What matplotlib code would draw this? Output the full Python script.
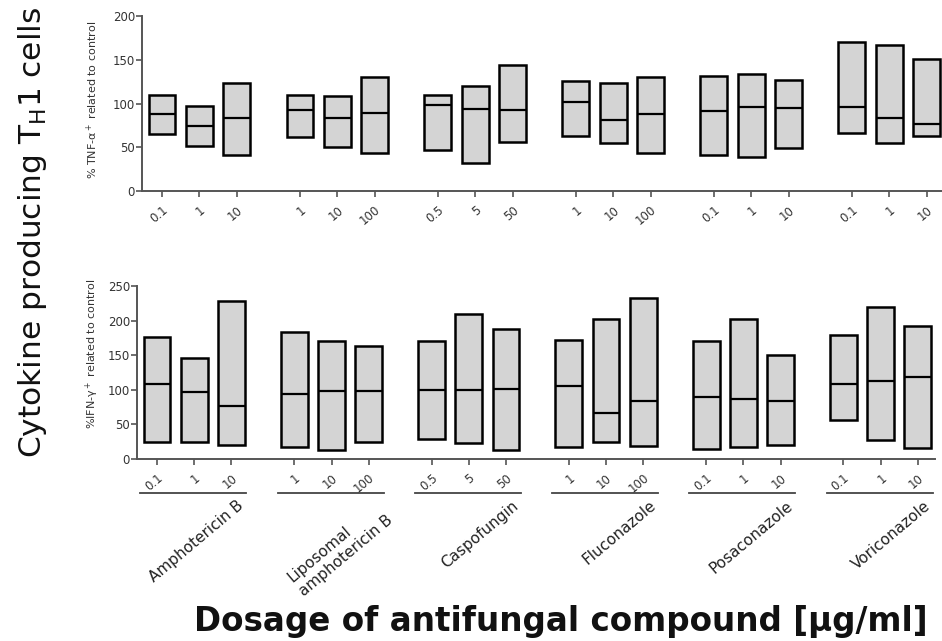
import matplotlib
matplotlib.use("Agg")
import matplotlib.pyplot as plt
import numpy as np

# groups and doses
compounds = ["Amphotericin B", "Liposomal\namphotericin B", "Caspofungin",
             "Fluconazole", "Posaconazole", "Voriconazole"]
doses = [["0.1", "1", "10"], ["1", "10", "100"], ["0.5", "5", "50"],
         ["1", "10", "100"], ["0.1", "1", "10"], ["0.1", "1", "10"]]

# % TNF-a+ related to control (min / median / max)
tnf_max = [110, 97, 123, 110, 109, 130, 110, 120, 144, 126, 123, 130, 131, 134, 127, 170, 167, 151]
tnf_med = [88, 74, 84, 93, 84, 89, 98, 94, 93, 102, 81, 88, 91, 96, 95, 96, 83, 77]
tnf_min = [65, 52, 41, 62, 50, 44, 47, 32, 56, 63, 55, 44, 41, 39, 49, 66, 55, 63]

# % IFN-g+ related to control
ifn_max = [177, 146, 229, 183, 170, 163, 170, 209, 188, 172, 202, 232, 171, 202, 150, 179, 219, 192]
ifn_med = [108, 97, 76, 94, 98, 98, 100, 99, 101, 105, 66, 84, 90, 87, 84, 109, 113, 118]
ifn_min = [24, 24, 20, 18, 13, 25, 29, 23, 13, 17, 24, 19, 15, 17, 20, 56, 28, 16]

GROUP_STEP = 3.69
BAR_W = 0.72
FILL = "#d4d4d4"
SPINE = "#555555"
TXT = "#333333"

pos = np.array([g * GROUP_STEP + i for g in range(len(compounds)) for i in range(3)])
dose_labels = [d for grp in doses for d in grp]

fig = plt.figure(figsize=(9.42, 6.41), dpi=100)
W, H = 942.0, 641.0


def px_axes(left, top, right, bottom):
    return fig.add_axes([left / W, 1 - bottom / H, (right - left) / W, (bottom - top) / H])


def draw_panel(ax, lo, med, hi, ymax, ystep, xlim):
    lo, med, hi = np.array(lo), np.array(med), np.array(hi)
    ax.bar(pos, hi - lo, bottom=lo, width=BAR_W, color=FILL,
           edgecolor="black", linewidth=1.8, zorder=3)
    ax.hlines(med, pos - BAR_W / 2, pos + BAR_W / 2, color="black", linewidth=1.6, zorder=4)
    ax.set_xlim(*xlim)
    ax.set_ylim(0, ymax)
    ax.set_yticks(np.arange(0, ymax + 1, ystep))
    ax.set_xticks(pos)
    ax.set_xticklabels(dose_labels, rotation=40, ha="right", rotation_mode="anchor",
                       fontsize=8.5, color=TXT)
    ax.tick_params(axis="y", labelsize=8.5, labelcolor=TXT, color=SPINE,
                   length=4, width=1.2, pad=1)
    ax.tick_params(axis="x", color=SPINE, length=4, width=1.2, pad=5)
    for s in ["top", "right"]:
        ax.spines[s].set_visible(False)
    for s in ["left", "bottom"]:
        ax.spines[s].set_color(SPINE)
        ax.spines[s].set_linewidth(1.4)


ax1 = px_axes(142, 16, 942, 191)
draw_panel(ax1, tnf_min, tnf_med, tnf_max, 200, 50, (-0.535, 20.86))

ax2 = px_axes(137, 286, 935, 459)
draw_panel(ax2, ifn_min, ifn_med, ifn_max, 250, 50, (-0.538, 20.91))

# group underlines and names under the lower panel
trans = ax2.get_xaxis_transform()
for g, name in enumerate(compounds):
    p0 = pos[3 * g]
    p2 = pos[3 * g + 2]
    ax2.plot([p0 - 0.45, p2 + 0.4], [-0.197, -0.197], transform=trans,
             color="#444444", linewidth=1.3, clip_on=False)
    ax2.text(p2 + 0.15, -0.225, name, transform=trans, rotation=40,
             ha="right", va="top", rotation_mode="anchor", multialignment="left",
             fontsize=11, color="#222222", linespacing=1.3)

fig.text(92 / W, 1 - 100 / H, "% TNF-α$^+$ related to control", rotation=90,
         ha="center", va="center", fontsize=8, color=TXT)
fig.text(92 / W, 1 - 354 / H, "%IFN-γ$^+$ related to control", rotation=90,
         ha="center", va="center", fontsize=8, color=TXT)

fig.text(33 / W, 1 - 232 / H, "Cytokine producing T$_\\mathregular{H}$1 cells",
         rotation=90, ha="center", va="center", fontsize=22.5, color="#111111")
fig.text(561 / W, 1 - 622 / H, "Dosage of antifungal compound [µg/ml]",
         ha="center", va="center", fontsize=23.5, fontweight="bold", color="#111111")

fig.savefig("out.png", dpi=100)
